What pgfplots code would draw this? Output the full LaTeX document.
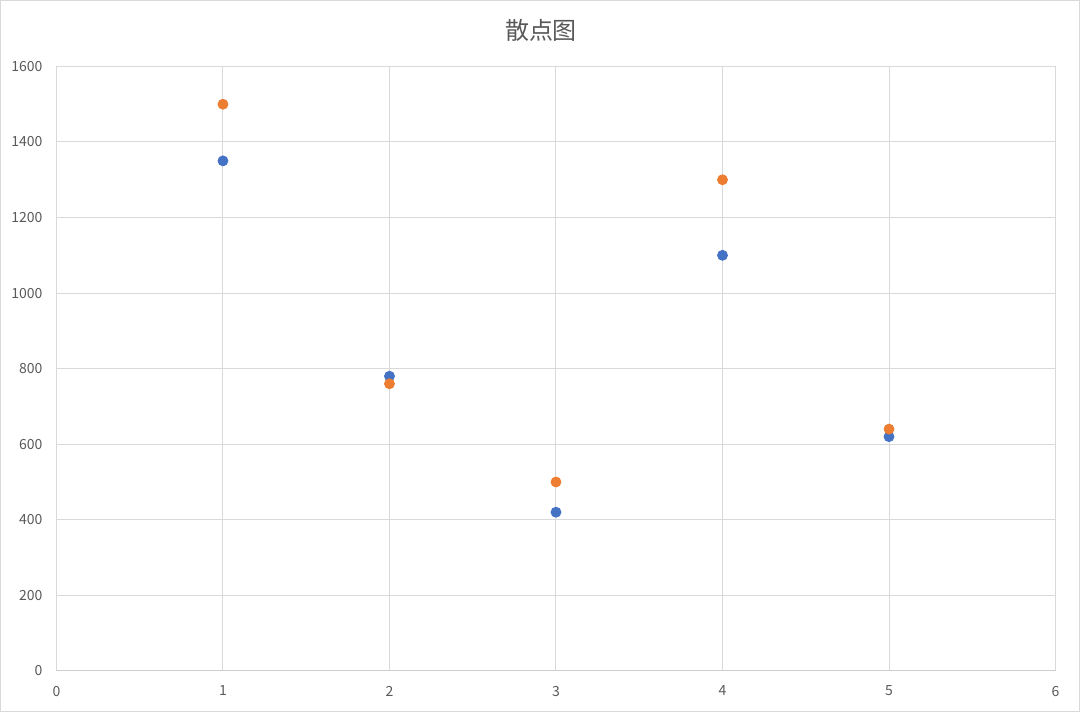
\documentclass[border=0pt]{standalone}
\usepackage{fontspec}
\setmainfont{Noto Sans CJK SC}
\usepackage{pgfplots}
\pgfplotsset{compat=1.18}
\definecolor{exblue}{HTML}{4472C4}
\definecolor{exorange}{HTML}{ED7D31}
\definecolor{txtgray}{HTML}{595959}
\definecolor{gridgray}{HTML}{D9D9D9}
\begin{document}
\begin{tikzpicture}
\draw[draw=gridgray, line width=0.5pt] (-28pt,-20.5pt) rectangle (512pt,335.5pt);
\begin{axis}[
  at={(0,0)}, anchor=south west,
  scale only axis,
  width=500pt, height=302.5pt,
  xmin=0, xmax=6, ymin=0, ymax=1600,
  xtick={0,1,...,6}, ytick={0,200,...,1600},
  grid=major,
  major grid style={draw=gridgray, line width=0.5pt},
  axis line style={draw=none},
  tick style={draw=none},
  ticklabel style={font=\fontsize{7}{8}\selectfont, text=txtgray},
  /pgf/number format/assume math mode=true,
  /pgf/number format/1000 sep={},
  yticklabel style={xshift=-3.5pt},
  xticklabel style={yshift=-4pt},
  title={散点图},
  title style={font=\fontsize{12}{14}\selectfont, text=txtgray, yshift=3pt, xshift=-7.5pt},
  clip=false,
]
\draw[draw=gridgray!80!black!60, line width=0.6pt] (axis cs:0,0) -- (axis cs:6,0);
\addplot[only marks, mark=*, mark size=2.5pt, mark options={draw=exblue, fill=exblue}]
  coordinates {(1,1350) (2,780) (3,420) (4,1100) (5,620)};
\addplot[only marks, mark=*, mark size=2.5pt, mark options={draw=exorange, fill=exorange}]
  coordinates {(1,1500) (2,760) (3,500) (4,1300) (5,640)};
\end{axis}
\end{tikzpicture}
\end{document}
